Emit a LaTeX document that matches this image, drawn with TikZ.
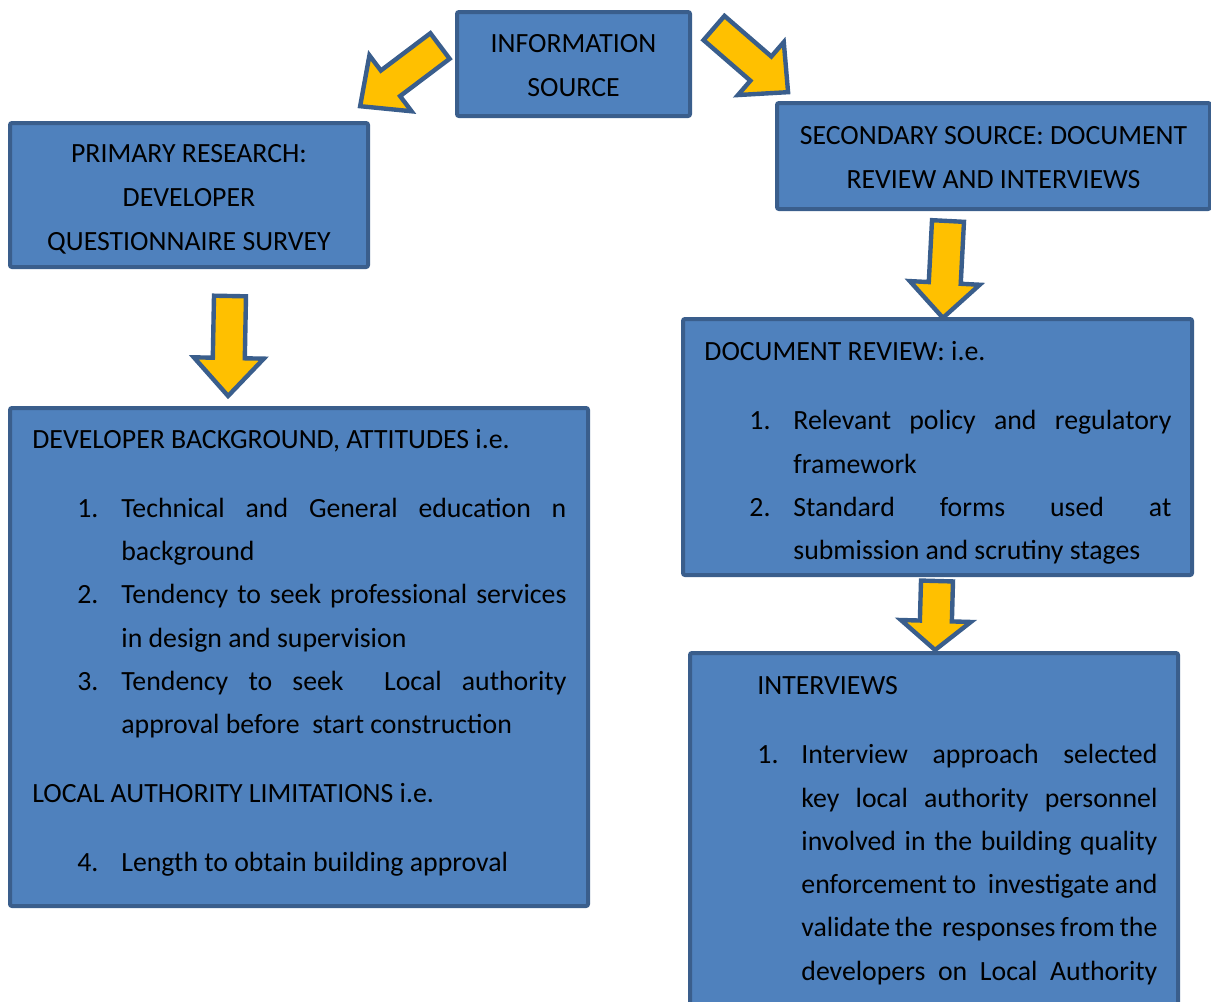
\documentclass[tikz,border=0pt]{standalone}
\usepackage{fontspec}
\setmainfont{Carlito}
\usetikzlibrary{positioning}

\definecolor{boxfill}{HTML}{4F81BD}
\definecolor{boxline}{HTML}{3A5E8C}
\definecolor{arrowfill}{HTML}{FFC000}

% numbered line: offset of the number, number, text
\newcommand{\numitem}[3]{{\leftskip=#1\relax\noindent\hangindent=22pt\hangafter=1\makebox[22pt][l]{#2}#3\par}}
% block arrow: tail, angle, length, head length
\newcommand{\fatarrow}[4]{%
  \draw[blockarrow, shift={#1}, rotate=#2]
    (0,16) -- ({#3-#4},16) -- ({#3-#4},35) -- (#3,0)
    -- ({#3-#4},-35) -- ({#3-#4},-16) -- (0,-16) -- cycle;}
\newcommand{\gap}{\vspace{12.9pt}}
\newcommand{\nobreaks}{\hyphenpenalty=10000\relax\tolerance=10000\relax}

\begin{document}
\begin{tikzpicture}[x=0.5pt, y=-0.5pt]
\tikzset{
  box/.style={
    draw=boxline,
    fill=boxfill,
    line width=2pt,
    rounded corners=1pt,
    inner sep=0pt,
  },
  boxtext/.style={inner sep=0pt, align=center,
    font=\fontsize{13.9pt}{22pt}\selectfont},
  listtext/.style={inner sep=0pt, anchor=base west, align=justify,
    font=\fontsize{13.9pt}{21.65pt}\selectfont},
  blockarrow/.style={draw=boxline, fill=arrowfill, line width=2.2pt, line join=miter}
}
\clip (0,0) rectangle (1211,1002);

% boxes
\node[box, minimum width=116.5pt, minimum height=52pt] (info) at (573.5,64) {};
\node[box, minimum width=179pt, minimum height=72pt] (primary) at (189,195) {};
\node[box, minimum width=216.5pt, minimum height=53pt] (secondary) at (993.5,156) {};
\node[box, minimum width=289pt, minimum height=249pt] (devbox) at (299,657) {};
\node[box, minimum width=254.5pt, minimum height=128pt] (docbox) at (937.5,447) {};
\node[box, minimum width=244pt, minimum height=188.5pt] (intbox) at (934,841.5) {};

% box texts
\node[boxtext] (infotext) at ([yshift=-1pt]info.center) {INFORMATION\\SOURCE};
\node[boxtext] (primarytext) at ([yshift=-2pt]primary.center) {PRIMARY RESEARCH:\\DEVELOPER\\QUESTIONNAIRE SURVEY};
\node[boxtext] (secondarytext) at ([yshift=-1pt]secondary.center) {SECONDARY SOURCE: DOCUMENT\\REVIEW AND INTERVIEWS};

\node[listtext, text width=267pt] (devtext) at (32,448) {\nobreaks
DEVELOPER BACKGROUND, ATTITUDES i.e.\par\gap
\numitem{22.5pt}{1.}{Technical and General education n\linebreak background}
\numitem{22.5pt}{2.}{Tendency to seek professional services\linebreak in design and supervision}
\numitem{22.5pt}{3.}{Tendency to seek\ \ Local authority\linebreak approval before\ \ start construction}
\gap
LOCAL AUTHORITY LIMITATIONS i.e.\par\gap
\numitem{22.5pt}{4.}{Length to obtain building approval}};

\node[listtext, text width=233.5pt] (doctext) at (704,360.6) {\nobreaks
DOCUMENT REVIEW: i.e.\par\gap
\numitem{22.5pt}{1.}{Relevant policy and regulatory\linebreak framework}
\numitem{22.5pt}{2.}{Standard forms used at\linebreak submission and scrutiny stages}};

\node[listtext, text width=200pt] (inttext) at (757,694.6) {\nobreaks
INTERVIEWS\par\gap
{\parfillskip=0pt
\numitem{0pt}{1.}{Interview approach selected\linebreak key local authority personnel\linebreak involved in the building quality\linebreak enforcement to\ \ investigate and\linebreak validate the\ \ responses from the\linebreak developers on Local Authority}}};

% arrows
\fatarrow{(440,46)}{217}{100}{38}
\fatarrow{(714,28)}{-40.9}{98}{36}
\fatarrow{(230,296)}{-91.1}{100}{38}
\fatarrow{(948,221)}{-93}{97}{35}
\fatarrow{(937,581)}{-91.6}{69}{29}
\end{tikzpicture}
\end{document}
